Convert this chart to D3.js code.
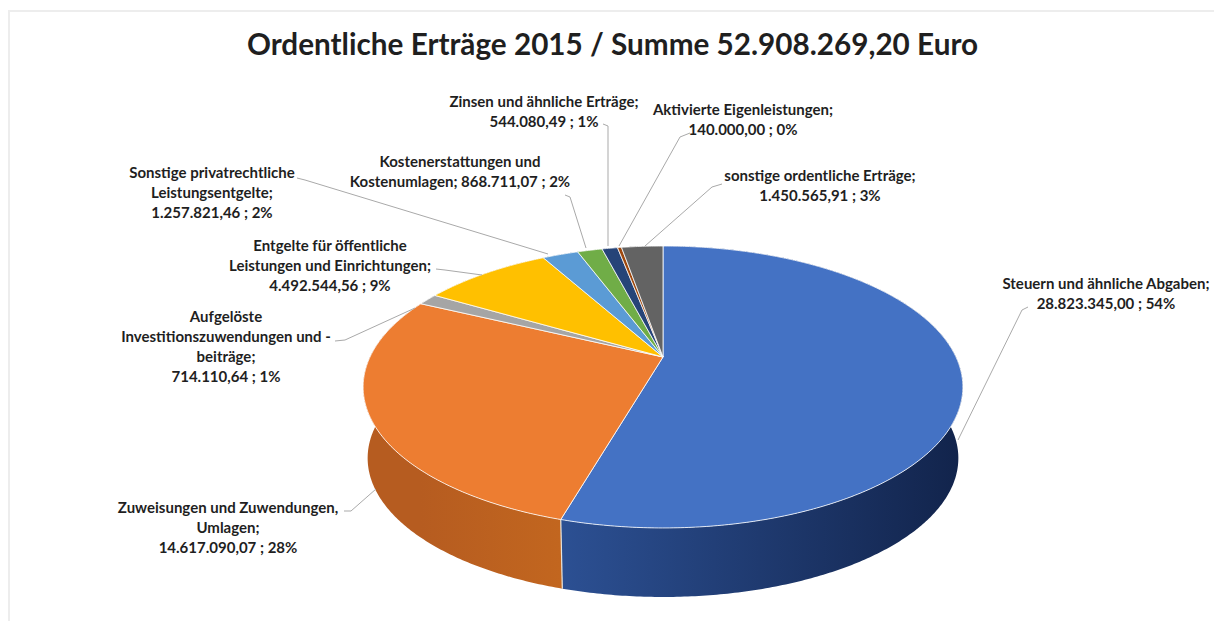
<!DOCTYPE html>
<html lang="de">
<head>
<meta charset="utf-8">
<title>Ordentliche Erträge 2015</title>
<script src="https://cdn.jsdelivr.net/npm/d3@7/dist/d3.min.js"></script>
<style>
  html, body { margin: 0; padding: 0; background: #fff; }
  svg { display: block; }
  text { font-family: Lato, "Open Sans", sans-serif; fill: #1f1f1f; }
</style>
</head>
<body>
<svg id="chart" width="1214" height="621"></svg>
<script>
// Ordentliche Erträge 2015, in Euro, clockwise from twelve o'clock
const categories = [
  "Steuern und ähnliche Abgaben",
  "Zuweisungen und Zuwendungen, Umlagen",
  "Aufgelöste Investitionszuwendungen und -beiträge",
  "Entgelte für öffentliche Leistungen und Einrichtungen",
  "Sonstige privatrechtliche Leistungsentgelte",
  "Kostenerstattungen und Kostenumlagen",
  "Zinsen und ähnliche Erträge",
  "Aktivierte Eigenleistungen",
  "sonstige ordentliche Erträge"
];
const values = [
  28823345.00, 14617090.07, 714110.64, 4492544.56, 1257821.46,
  868711.07, 544080.49, 140000.00, 1450565.91
];
const topColors = ["#4472C4", "#ED7D31", "#A5A5A5", "#FFC000", "#5B9BD5", "#70AD47", "#264478", "#9E480E", "#636363"];
const wallColorsNear = ["#2C5093", "#C2661F", "#7C7C7C", "#BF9000", "#44749F", "#548235", "#1C335A", "#77360A", "#4A4A4A"];
const wallColorsFar = ["#12244C", "#B65C20", "#7C7C7C", "#BF9000", "#44749F", "#548235", "#1C335A", "#77360A", "#4A4A4A"];

const titleText = "Ordentliche Erträge 2015 / Summe 52.908.269,20 Euro";

// Label lines as printed, one list per slice
const labelLines = [
  ["Steuern und ähnliche Abgaben;", "28.823.345,00 ; 54%"],
  ["Zuweisungen und Zuwendungen,", "Umlagen;", "14.617.090,07 ; 28%"],
  ["Aufgelöste", "Investitionszuwendungen und -", "beiträge;", "714.110,64 ; 1%"],
  ["Entgelte für öffentliche", "Leistungen und Einrichtungen;", "4.492.544,56 ; 9%"],
  ["Sonstige privatrechtliche", "Leistungsentgelte;", "1.257.821,46 ; 2%"],
  ["Kostenerstattungen und", "Kostenumlagen; 868.711,07 ; 2%"],
  ["Zinsen und ähnliche Erträge;", "544.080,49 ; 1%"],
  ["Aktivierte Eigenleistungen;", "140.000,00 ; 0%"],
  ["sonstige ordentliche Erträge;", "1.450.565,91 ; 3%"]
];

// Label placement: text centre, first baseline, leader start, knee and end
const labelLayout = [
  { x: 1106, y: 289, start: [1028, 307], knee: [1022, 310], end: [958, 440] },
  { x: 228,  y: 513, start: [344, 511],  knee: [351, 511],  end: [376, 489] },
  { x: 226,  y: 322, start: [335, 341],  knee: [345, 340],  end: [415, 308] },
  { x: 330,  y: 251, start: [436, 269],  knee: [445, 270],  end: [482, 275] },
  { x: 212,  y: 178, start: [297, 178],  knee: [305, 180],  end: [548, 254] },
  { x: 460,  y: 167, start: [565, 195],  knee: [570, 197],  end: [586, 248] },
  { x: 544,  y: 107, start: [603, 124],  knee: [608, 126],  end: [608, 246] },
  { x: 743,  y: 115, start: [690, 133],  knee: [680, 137],  end: [619, 246] },
  { x: 820,  y: 181, start: [722, 184],  knee: [712, 187],  end: [645, 246] }
];

// Perspective disc: apex of the top face, radii and vanishing strength
const disc = { cx: 663, cy: 357, rx: 293, ry: 134.6, p: 0.2126, depth: 71.6, bottomScale: 0.985 };

const svg = d3.select("#chart");

// Faint frame along the top and left edge of the chart area
svg.append("path")
  .attr("d", d3.line()([[9, 621], [9, 11], [1214, 11]]))
  .attr("fill", "none")
  .attr("stroke", "#ededed")
  .attr("stroke-width", 2);

// Project an angle on the unit circle (radius r) of the top or bottom face to the page
function project(angle, r, face) {
  const X = Math.sin(angle) * r;
  const Y = -Math.cos(angle) * r;
  const s = 1 / (1 - disc.p * Y);
  const k = face === "bottom" ? disc.bottomScale : 1;
  const dy = face === "bottom" ? disc.depth : 0;
  return [disc.cx + disc.rx * X * s * k, disc.cy + dy + disc.ry * Y * s * k];
}

const pie = d3.pie().sort(null).value(d => d)(values);
const line = d3.line();
const arcSamples = (a0, a1) => {
  const n = Math.max(2, Math.ceil((a1 - a0) / 0.01));
  return d3.range(n + 1).map(i => a0 + (a1 - a0) * i / n);
};

// Wall colour runs across the page, darkest toward the outer left and right ends
const defs = svg.append("defs");
pie.forEach((d, i) => {
  const p0 = project(d.startAngle, 1, "top");
  const p1 = project(d.endAngle, 1, "top");
  const grad = defs.append("linearGradient")
    .attr("id", "wall" + i)
    .attr("gradientUnits", "userSpaceOnUse")
    .attr("x1", i === 0 ? p1[0] : p0[0]).attr("y1", 0)
    .attr("x2", i === 0 ? disc.cx + 295 : p1[0]).attr("y2", 0);
  grad.append("stop").attr("offset", 0).attr("stop-color", wallColorsNear[i]);
  grad.append("stop").attr("offset", 1).attr("stop-color", wallColorsFar[i]);
});

// Outer wall of each slice, drawn first so the top faces sit above it
const walls = svg.append("g");
pie.forEach((d, i) => {
  const angles = arcSamples(d.startAngle, d.endAngle);
  const pts = angles.map(a => project(a, 1, "top"))
    .concat(angles.slice().reverse().map(a => project(a, 1, "bottom")));
  walls.append("path")
    .attr("d", line(pts) + "Z")
    .attr("fill", `url(#wall${i})`)
    .attr("stroke", "none");
});

// Pale seam between the two visible walls
const seamAngle = pie[0].endAngle;
walls.append("path")
  .attr("d", line([project(seamAngle, 1, "top"), project(seamAngle, 1, "bottom")]))
  .attr("stroke", "#e8e4dc").attr("stroke-width", 1.2).attr("fill", "none");

// Top faces
const faces = svg.append("g");
pie.forEach((d, i) => {
  const pts = [project(0, 0, "top")]
    .concat(arcSamples(d.startAngle, d.endAngle).map(a => project(a, 1, "top")));
  faces.append("path")
    .attr("d", line(pts) + "Z")
    .attr("fill", topColors[i])
    .attr("stroke", "#fff")
    .attr("stroke-opacity", 0.8)
    .attr("stroke-width", 1)
    .attr("stroke-linejoin", "round");
});

// Leader lines
const leaders = svg.append("g");
labelLayout.forEach(l => {
  leaders.append("path")
    .attr("d", line([l.start, l.knee, l.end]))
    .attr("fill", "none")
    .attr("stroke", "#a9a9a9")
    .attr("stroke-width", 1);
});

// Data labels
const labels = svg.append("g")
  .attr("font-size", 15)
  .attr("font-weight", 700)
  .attr("text-anchor", "middle");
labelLines.forEach((lines, i) => {
  const t = labels.append("text").attr("x", labelLayout[i].x).attr("y", labelLayout[i].y);
  t.selectAll("tspan").data(lines).join("tspan")
    .attr("x", labelLayout[i].x)
    .attr("dy", (_, j) => j === 0 ? 0 : 20)
    .text(d => d);
});

svg.append("text")
  .attr("x", 612.5).attr("y", 55)
  .attr("text-anchor", "middle")
  .attr("font-size", 29.7)
  .attr("font-weight", 700)
  .text(titleText);
</script>
</body>
</html>
